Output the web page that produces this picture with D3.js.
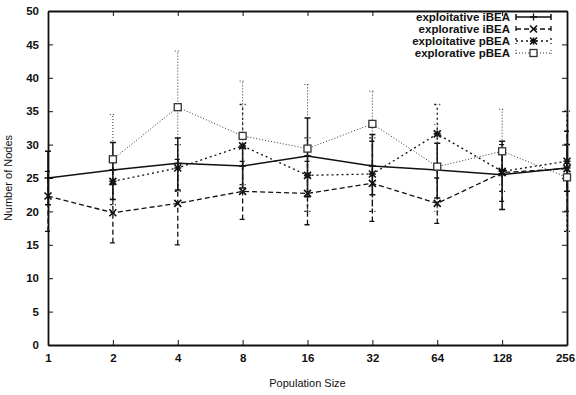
<!DOCTYPE html>
<html>
<head>
<meta charset="utf-8">
<script src="https://cdn.jsdelivr.net/npm/d3@7"></script>
<style>
  body { margin: 0; background: #fff; }
  text { font-family: "Liberation Sans", Arial, sans-serif; fill: #111; }
  .tick text { font-size: 11.5px; font-weight: bold; }
  .title { font-size: 11px; }
  .legend text { font-size: 11.5px; font-weight: bold; }
</style>
</head>
<body>
<div id="chart"></div>
<script>
const svgWidth = 576;
const svgHeight = 395;
const margin = {top: 11, right: 9, bottom: 50, left: 48};
const width = svgWidth - margin.left - margin.right;
const height = svgHeight - margin.top - margin.bottom;

// population sizes on the x axis
const popSizes = [1, 2, 4, 8, 16, 32, 64, 128, 256];
const yTicks = [0, 5, 10, 15, 20, 25, 30, 35, 40, 45, 50];
const seriesNames = ["exploitative iBEA", "explorative iBEA", "exploitative pBEA", "explorative pBEA"];

// means, then low and high ends of the error bars (null = no run)
const exploitIBEA    = [25.0, 26.2, 27.2, 26.8, 28.3, 26.8, 26.2, 25.5, 26.5];
const exploitIBEALo  = [21.0, 21.8, 23.2, 23.5, 22.2, 22.5, 22.0, 20.3, 23.0];
const exploitIBEAHi  = [29.0, 30.3, 31.0, 29.5, 34.0, 31.5, 30.2, 30.5, 30.0];

const exploreIBEA    = [22.3, 19.8, 21.2, 23.0, 22.7, 24.2, 21.2, 25.8, 26.4];
const exploreIBEALo  = [17.0, 15.3, 15.0, 18.8, 18.0, 18.5, 18.2, 21.5, 20.0];
const exploreIBEAHi  = [26.0, 24.0, 27.8, 27.5, 27.5, 30.5, 25.0, 30.0, 32.0];

const exploitPBEA    = [null, 24.5, 26.5, 29.8, 25.4, 25.6, 31.6, 26.0, 27.5];
const exploitPBEALo  = [null, 21.0, 23.0, 24.0, 20.0, 20.0, 27.0, 23.0, 17.0];
const exploitPBEAHi  = [null, 28.0, 30.0, 36.0, 31.0, 31.0, 36.0, 29.0, 35.0];

const explorePBEA    = [null, 27.8, 35.6, 31.3, 29.4, 33.1, 26.7, 29.0, 25.1];
const explorePBEALo  = [null, 22.0, 27.0, 23.0, 20.0, 27.0, 20.0, 24.0, 20.0];
const explorePBEAHi  = [null, 34.5, 44.0, 39.5, 39.0, 38.0, 33.0, 35.3, 30.0];

const styles = [
  {mean: exploitIBEA, lo: exploitIBEALo, hi: exploitIBEAHi, dash: null,  width: 1.5, color: "#111", marker: "plus"},
  {mean: exploreIBEA, lo: exploreIBEALo, hi: exploreIBEAHi, dash: "5,3", width: 1.3, color: "#111", marker: "cross"},
  {mean: exploitPBEA, lo: exploitPBEALo, hi: exploitPBEAHi, dash: "2,3", width: 1.3, color: "#111", marker: "star"},
  {mean: explorePBEA, lo: explorePBEALo, hi: explorePBEAHi, dash: "1,2", width: 1.0, color: "#333", marker: "box"}
];

const svg = d3.select("#chart").append("svg")
  .attr("width", svgWidth)
  .attr("height", svgHeight)
  .append("g")
  .attr("transform", "translate(" + margin.left + "," + margin.top + ")");

const xscale = d3.scaleLog().base(2).domain([1, 256]).range([0, width]);
const yscale = d3.scaleLinear().domain([0, 50]).range([height, 0]);

// axes, gnuplot style: ticks point inward, mirrored on the far side
const xaxis = svg.append("g")
  .attr("class", "axis")
  .attr("transform", "translate(0," + height + ")")
  .call(d3.axisBottom(xscale).tickValues(popSizes).tickFormat(d3.format("d")).tickSizeInner(-5).tickSizeOuter(0).tickPadding(9));

// keep the last label inside the window
xaxis.selectAll(".tick text").filter(function(d) { return d == 256; }).attr("dx", -2);

svg.append("g")
  .attr("class", "axis")
  .call(d3.axisTop(xscale).tickValues(popSizes).tickFormat("").tickSizeInner(-5).tickSizeOuter(0));

svg.append("g")
  .attr("class", "axis")
  .call(d3.axisLeft(yscale).tickValues(yTicks).tickSizeInner(-5).tickSizeOuter(0).tickPadding(9));

svg.append("g")
  .attr("class", "axis")
  .attr("transform", "translate(" + width + ",0)")
  .call(d3.axisRight(yscale).tickValues(yTicks).tickFormat("").tickSizeInner(-5).tickSizeOuter(0));

svg.selectAll(".axis path").attr("stroke", "#111").attr("stroke-width", 1.8);
svg.selectAll(".axis line").attr("stroke", "#111").attr("stroke-width", 1);

svg.append("text")
  .attr("class", "title")
  .attr("transform", "translate(-36," + (height / 2) + ")rotate(-90)")
  .attr("text-anchor", "middle")
  .text("Number of Nodes");

svg.append("text")
  .attr("class", "title")
  .attr("transform", "translate(" + (width / 2) + "," + (height + 42) + ")")
  .attr("text-anchor", "middle")
  .text("Population Size");

// marker shapes
function drawMarker(g, kind, x, y, color) {
  const s = 3.5;
  if (kind == "plus") {
    g.append("path").attr("d", "M" + (x - s) + "," + y + "H" + (x + s) + "M" + x + "," + (y - s) + "V" + (y + s))
      .attr("stroke", color).attr("stroke-width", 1.3).attr("fill", "none");
  } else if (kind == "cross") {
    g.append("path").attr("d", "M" + (x - s) + "," + (y - s) + "L" + (x + s) + "," + (y + s) + "M" + (x - s) + "," + (y + s) + "L" + (x + s) + "," + (y - s))
      .attr("stroke", color).attr("stroke-width", 1.6).attr("fill", "none");
  } else if (kind == "star") {
    g.append("path").attr("d", "M" + (x - s) + "," + (y - s) + "L" + (x + s) + "," + (y + s) + "M" + (x - s) + "," + (y + s) + "L" + (x + s) + "," + (y - s) +
        "M" + (x - s) + "," + y + "H" + (x + s) + "M" + x + "," + (y - s) + "V" + (y + s))
      .attr("stroke", color).attr("stroke-width", 1.6).attr("fill", "none");
  } else {
    g.append("rect").attr("x", x - s).attr("y", y - s).attr("width", 2 * s).attr("height", 2 * s)
      .attr("stroke", color).attr("stroke-width", 1.3).attr("fill", "#fff");
  }
}

// series: error bars, connecting line, markers
styles.forEach(function(st, i) {
  const pts = popSizes.map(function(p, j) {
    return {x: p, y: st.mean[j], lo: st.lo[j], hi: st.hi[j]};
  }).filter(function(d) { return d.y != null; });

  const g = svg.append("g").attr("class", "series" + i);

  g.selectAll(".err").data(pts).enter().append("path")
    .attr("class", "err")
    .attr("d", function(d) {
      const x = xscale(d.x), y0 = yscale(d.lo), y1 = yscale(d.hi);
      return "M" + x + "," + y0 + "V" + y1 + "M" + (x - 3) + "," + y0 + "H" + (x + 3) + "M" + (x - 3) + "," + y1 + "H" + (x + 3);
    })
    .attr("stroke", st.color)
    .attr("stroke-width", st.width)
    .attr("stroke-dasharray", st.dash)
    .attr("fill", "none");

  const line = d3.line()
    .x(function(d) { return xscale(d.x); })
    .y(function(d) { return yscale(d.y); });

  g.append("path")
    .datum(pts)
    .attr("d", line)
    .attr("stroke", st.color)
    .attr("stroke-width", st.width)
    .attr("stroke-dasharray", st.dash)
    .attr("fill", "none");

  pts.forEach(function(d) {
    drawMarker(g, st.marker, xscale(d.x), yscale(d.y), st.color);
  });
});

// legend
const legend = svg.append("g").attr("class", "legend");
seriesNames.forEach(function(name, i) {
  const st = styles[i];
  const y = 6 + i * 12;
  legend.append("text")
    .attr("x", width - 57)
    .attr("y", y + 4)
    .attr("text-anchor", "end")
    .text(name);
  legend.append("path")
    .attr("d", "M" + (width - 51) + "," + y + "H" + (width - 16) +
      "M" + (width - 51) + "," + (y - 3) + "V" + (y + 3) + "M" + (width - 16) + "," + (y - 3) + "V" + (y + 3))
    .attr("stroke", st.color)
    .attr("stroke-width", st.width)
    .attr("stroke-dasharray", st.dash)
    .attr("fill", "none");
  drawMarker(legend, st.marker, width - 33.5, y, st.color);
});
</script>
</body>
</html>
